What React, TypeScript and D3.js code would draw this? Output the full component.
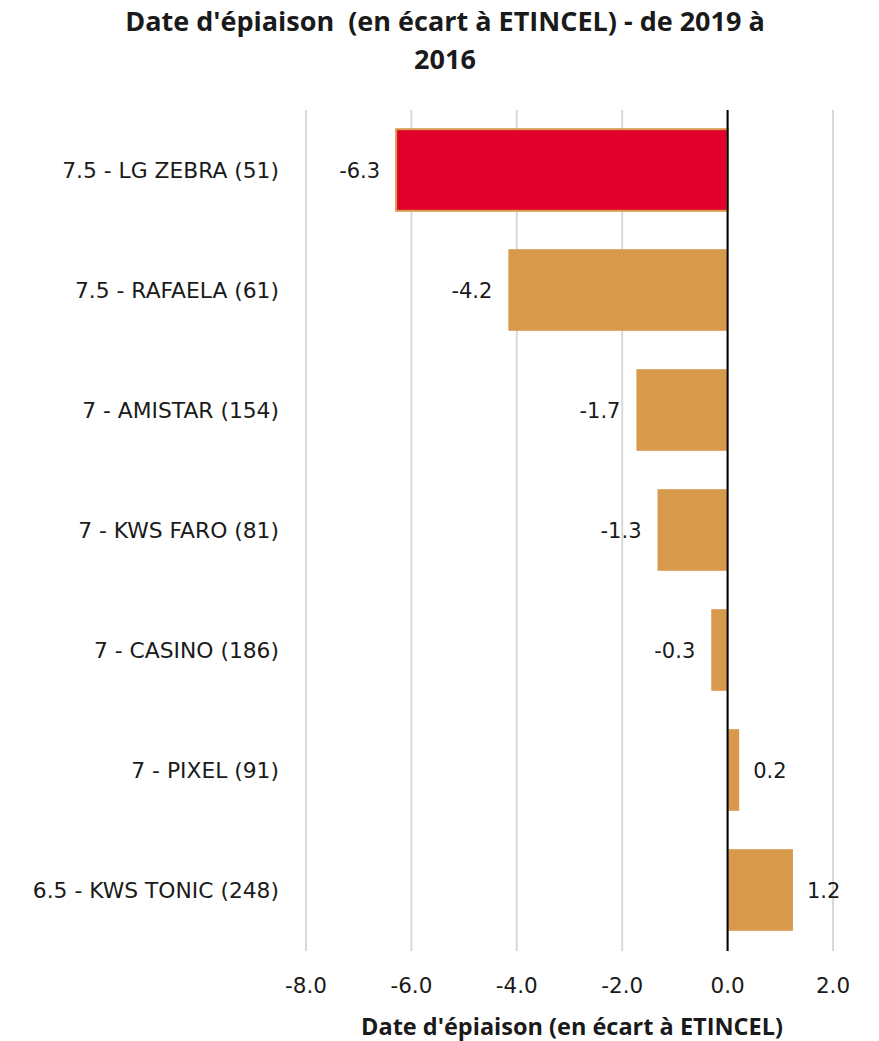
import React from "react";
import * as d3 from "d3";

const categories = [
  "7.5 - LG ZEBRA (51)",
  "7.5 - RAFAELA (61)",
  "7 - AMISTAR (154)",
  "7 - KWS FARO (81)",
  "7 - CASINO (186)",
  "7 - PIXEL (91)",
  "6.5 - KWS TONIC (248)",
];
const values = [-6.29, -4.16, -1.73, -1.33, -0.31, 0.22, 1.24];
const xTicks = [-8, -6, -4, -2, 0, 2];
const highlighted = "7.5 - LG ZEBRA (51)";
const titleLines = ["Date d'épiaison  (en écart à ETINCEL) - de 2019 à", "2016"];
const axisTitle = "Date d'épiaison (en écart à ETINCEL)";

const W = 879;
const H = 1041;
const plotLeft = 306;
const plotRight = 833;
const plotTop = 110;
const plotBottom = 950;

const ORANGE = "#D79A4C";
const RED = "#E1002B";
const GRID = "#D9D9D9";
const TEXT = "#1a1a1a";
const REG = "'DejaVu Sans', 'Open Sans', sans-serif";
const BOLD = "'Open Sans', 'DejaVu Sans', sans-serif";

const locale = d3.formatLocale({
  decimal: ".",
  thousands: ",",
  grouping: [3],
  currency: ["", ""],
  minus: "-",
});
const fmt = locale.format(".1f");

export default function App() {
  const x = d3.scaleLinear().domain([-8, 2]).range([plotLeft, plotRight]);
  const y = d3
    .scaleBand<string>()
    .domain(categories)
    .range([plotTop, plotBottom])
    .paddingInner(0.32)
    .paddingOuter(0.16);
  const x0 = x(0);

  return (
    <svg
      width={W}
      height={H}
      viewBox={`0 0 ${W} ${H}`}
      style={{ position: "absolute", left: 0, top: 0, background: "#fff" }}
    >
      <rect x={0} y={0} width={W} height={H} fill="#fff" />
      {titleLines.map((t, i) => (
        <text
          key={i}
          x={445}
          y={31 + i * 38}
          textAnchor="middle"
          fontFamily={BOLD}
          fontWeight="bold"
          fontSize={27}
          fill={TEXT}
          style={{ whiteSpace: "pre" }}
        >
          {t}
        </text>
      ))}
      {xTicks.map((t) => (
        <line
          key={t}
          x1={x(t)}
          x2={x(t)}
          y1={plotTop}
          y2={plotBottom + 1}
          stroke={GRID}
          strokeWidth={2}
        />
      ))}
      {categories.map((c, i) => {
        const v = values[i];
        const bx = Math.min(x(v), x0);
        const bw = Math.abs(x(v) - x0);
        const by = y(c)!;
        const bh = y.bandwidth();
        const isHi = c === highlighted;
        const cy = by + bh / 2;
        return (
          <g key={c}>
            <rect
              x={bx}
              y={by}
              width={bw}
              height={bh}
              fill={isHi ? RED : ORANGE}
              stroke={isHi ? ORANGE : "none"}
              strokeWidth={isHi ? 2 : 0}
            />
            <text
              x={v < 0 ? x(v) - 16 : x(v) + 14}
              y={cy + 8}
              textAnchor={v < 0 ? "end" : "start"}
              fontFamily={REG}
              fontSize={21}
              fill={TEXT}
            >
              {fmt(v)}
            </text>
            <text
              x={279}
              y={cy + 8}
              textAnchor="end"
              fontFamily={REG}
              fontSize={21.8}
              fill={TEXT}
            >
              {c}
            </text>
          </g>
        );
      })}
      <line x1={x0} x2={x0} y1={plotTop} y2={plotBottom + 1} stroke="#000" strokeWidth={2} />
      {xTicks.map((t) => (
        <text
          key={t}
          x={x(t)}
          y={993}
          textAnchor="middle"
          fontFamily={REG}
          fontSize={21.5}
          fill={TEXT}
        >
          {fmt(t)}
        </text>
      ))}
      <text
        x={572}
        y={1035}
        textAnchor="middle"
        fontFamily={BOLD}
        fontWeight="bold"
        fontSize={23.5}
        fill={TEXT}
      >
        {axisTitle}
      </text>
    </svg>
  );
}
